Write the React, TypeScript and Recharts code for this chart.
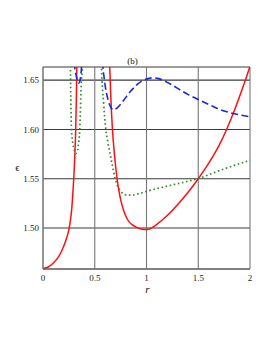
import {
  LineChart,
  Line,
  XAxis,
  YAxis,
  CartesianGrid,
} from "recharts";

// r values on the x axis, epsilon on the y axis
const xTicks = [0, 0.5, 1, 1.5, 2];
const yTicks = [1.5, 1.55, 1.6, 1.65];

// solid red curve, two branches (pole near r ~ 0.33 and ~ 0.64)
const redLow = [
  { r: 0, e: 1.459 },
  { r: 0.05, e: 1.4605 },
  { r: 0.1, e: 1.4645 },
  { r: 0.15, e: 1.4708 },
  { r: 0.2, e: 1.4815 },
  { r: 0.23, e: 1.4905 },
  { r: 0.25, e: 1.4985 },
  { r: 0.265, e: 1.508 },
  { r: 0.278, e: 1.52 },
  { r: 0.29, e: 1.538 },
  { r: 0.3, e: 1.556 },
  { r: 0.308, e: 1.575 },
  { r: 0.316, e: 1.6 },
  { r: 0.322, e: 1.63 },
  { r: 0.327, e: 1.665 },
  { r: 0.332, e: 1.71 },
];
const redHigh = [
  { r: 0.64, e: 1.68 },
  { r: 0.645, e: 1.663 },
  { r: 0.655, e: 1.633 },
  { r: 0.671, e: 1.6 },
  { r: 0.69, e: 1.575 },
  { r: 0.716, e: 1.55 },
  { r: 0.73, e: 1.54 },
  { r: 0.745, e: 1.5315 },
  { r: 0.76, e: 1.5248 },
  { r: 0.78, e: 1.5175 },
  { r: 0.8, e: 1.5122 },
  { r: 0.83, e: 1.5065 },
  { r: 0.86, e: 1.5035 },
  { r: 0.9, e: 1.501 },
  { r: 0.94, e: 1.4993 },
  { r: 0.98, e: 1.4986 },
  { r: 1.02, e: 1.4988 },
  { r: 1.05, e: 1.5002 },
  { r: 1.1, e: 1.5037 },
  { r: 1.2, e: 1.5127 },
  { r: 1.3, e: 1.5237 },
  { r: 1.4, e: 1.536 },
  { r: 1.5, e: 1.55 },
  { r: 1.6, e: 1.5655 },
  { r: 1.7, e: 1.5835 },
  { r: 1.774, e: 1.6 },
  { r: 1.85, e: 1.6195 },
  { r: 1.944, e: 1.6465 },
  { r: 2, e: 1.664 },
];

// dotted green curve
const greenLow = [
  { r: 0.26, e: 1.72 },
  { r: 0.265, e: 1.663 },
  { r: 0.275, e: 1.6 },
  { r: 0.29, e: 1.585 },
  { r: 0.305, e: 1.578 },
  { r: 0.316, e: 1.5755 },
  { r: 0.328, e: 1.577 },
  { r: 0.34, e: 1.583 },
  { r: 0.355, e: 1.6 },
  { r: 0.371, e: 1.65 },
  { r: 0.381, e: 1.663 },
  { r: 0.386, e: 1.7 },
];
const greenHigh = [
  { r: 0.56, e: 1.7 },
  { r: 0.565, e: 1.663 },
  { r: 0.585, e: 1.628 },
  { r: 0.607, e: 1.6 },
  { r: 0.625, e: 1.588 },
  { r: 0.645, e: 1.577 },
  { r: 0.67, e: 1.5635 },
  { r: 0.694, e: 1.5515 },
  { r: 0.71, e: 1.5455 },
  { r: 0.742, e: 1.5385 },
  { r: 0.78, e: 1.5345 },
  { r: 0.82, e: 1.5333 },
  { r: 0.87, e: 1.5335 },
  { r: 0.936, e: 1.5352 },
  { r: 1.0, e: 1.5372 },
  { r: 1.16, e: 1.5415 },
  { r: 1.323, e: 1.5455 },
  { r: 1.5, e: 1.5502 },
  { r: 1.71, e: 1.5585 },
  { r: 2, e: 1.5687 },
];

// dashed blue curve
const blueLow = [
  { r: 0.3, e: 1.7 },
  { r: 0.307, e: 1.663 },
  { r: 0.318, e: 1.656 },
  { r: 0.329, e: 1.651 },
  { r: 0.337, e: 1.648 },
  { r: 0.345, e: 1.647 },
  { r: 0.355, e: 1.6486 },
  { r: 0.365, e: 1.655 },
  { r: 0.372, e: 1.663 },
  { r: 0.378, e: 1.7 },
];
const blueHigh = [
  { r: 0.575, e: 1.69 },
  { r: 0.58, e: 1.663 },
  { r: 0.59, e: 1.653 },
  { r: 0.6, e: 1.645 },
  { r: 0.613, e: 1.637 },
  { r: 0.63, e: 1.6295 },
  { r: 0.645, e: 1.6248 },
  { r: 0.66, e: 1.6215 },
  { r: 0.677, e: 1.62 },
  { r: 0.695, e: 1.6203 },
  { r: 0.72, e: 1.6222 },
  { r: 0.75, e: 1.6255 },
  { r: 0.78, e: 1.6295 },
  { r: 0.81, e: 1.634 },
  { r: 0.84, e: 1.638 },
  { r: 0.88, e: 1.6425 },
  { r: 0.92, e: 1.6465 },
  { r: 0.96, e: 1.6493 },
  { r: 1.0, e: 1.651 },
  { r: 1.04, e: 1.652 },
  { r: 1.08, e: 1.6522 },
  { r: 1.12, e: 1.6515 },
  { r: 1.161, e: 1.6498 },
  { r: 1.24, e: 1.6455 },
  { r: 1.323, e: 1.6402 },
  { r: 1.4, e: 1.6355 },
  { r: 1.484, e: 1.6312 },
  { r: 1.565, e: 1.627 },
  { r: 1.645, e: 1.6232 },
  { r: 1.72, e: 1.6198 },
  { r: 1.806, e: 1.617 },
  { r: 1.9, e: 1.6147 },
  { r: 2, e: 1.6129 },
];

const serif = '"Liberation Serif", "Times New Roman", serif';
const tickStyle = { fontSize: 9, fontFamily: serif, fill: "#222" };

export default function App() {
  return (
    <div
      style={{
        position: "absolute",
        left: 0,
        top: 0,
        width: 273,
        height: 353,
        background: "white",
        fontFamily: serif,
      }}
    >
      <LineChart
        width={273}
        height={353}
        margin={{ top: 67, right: 23, bottom: 64, left: 0 }}
      >
        <CartesianGrid vertical={false} stroke="#3a3a3a" strokeWidth={1.1} />
        <CartesianGrid horizontal={false} stroke="#777" strokeWidth={1.1} />
        <XAxis
          dataKey="r"
          type="number"
          domain={[0, 2]}
          ticks={xTicks}
          height={20}
          tickSize={0}
          tickMargin={6}
          tickLine={false}
          stroke="#666"
          tick={tickStyle}
          allowDataOverflow
        />
        <XAxis
          xAxisId="top"
          orientation="top"
          type="number"
          domain={[0, 2]}
          height={0}
          tick={false}
          tickLine={false}
          stroke="#777"
        />
        <YAxis
          type="number"
          domain={[1.4585, 1.6633]}
          ticks={yTicks}
          width={43}
          tickSize={0}
          tickMargin={4}
          tickLine={false}
          stroke="#777"
          tick={tickStyle}
          tickFormatter={(v: number) => v.toFixed(2)}
          allowDataOverflow
        />
        <YAxis
          yAxisId="right"
          orientation="right"
          type="number"
          domain={[1.4585, 1.6633]}
          width={0}
          tick={false}
          tickLine={false}
          stroke="#444"
          strokeWidth={2}
        />
        <Line data={redLow} dataKey="e" type="monotone" stroke="#ff1010" strokeWidth={1.5} dot={false} isAnimationActive={false} />
        <Line data={redHigh} dataKey="e" type="monotone" stroke="#ff1010" strokeWidth={1.5} dot={false} isAnimationActive={false} />
        <Line data={greenLow} dataKey="e" type="monotone" stroke="#2e8b2e" strokeWidth={1.7} strokeDasharray="1.6 2.6" dot={false} isAnimationActive={false} />
        <Line data={greenHigh} dataKey="e" type="monotone" stroke="#2e8b2e" strokeWidth={1.7} strokeDasharray="1.6 2.6" dot={false} isAnimationActive={false} />
        <Line data={blueLow} dataKey="e" type="monotone" stroke="#1428e6" strokeWidth={1.6} strokeDasharray="7 3.5" dot={false} isAnimationActive={false} />
        <Line data={blueHigh} dataKey="e" type="monotone" stroke="#1428e6" strokeWidth={1.6} strokeDasharray="7 3.5" dot={false} isAnimationActive={false} />
      </LineChart>
      <div style={{ position: "absolute", left: 120, top: 56, width: 25, textAlign: "center", fontSize: 9, lineHeight: "10px", color: "#111" }}>
        (b)
      </div>
      <div style={{ position: "absolute", left: 10, top: 161, width: 15, textAlign: "center", fontSize: 11, lineHeight: "12px", color: "#111" }}>
        ϵ
      </div>
      <div style={{ position: "absolute", left: 140, top: 283, width: 15, textAlign: "center", fontSize: 11, lineHeight: "12px", fontStyle: "italic", color: "#111" }}>
        r
      </div>
    </div>
  );
}
